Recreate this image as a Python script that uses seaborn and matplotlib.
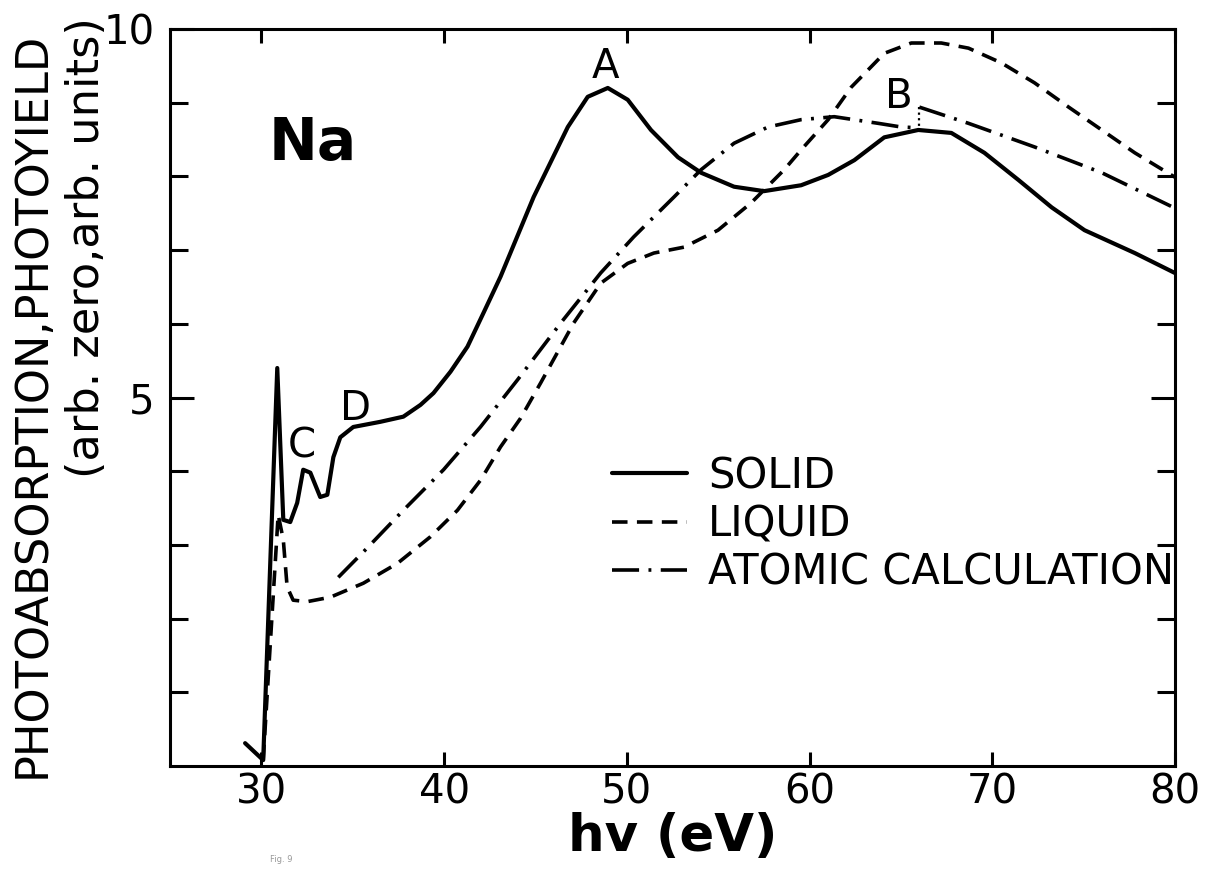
import numpy as np
import pandas as pd
import matplotlib
matplotlib.use('Agg')
import matplotlib.pyplot as plt
import seaborn as sns

### data (hv in eV, intensity in arb. units) ###
solid_ev = [29.11, 30.10, 30.87, 31.20, 31.58, 31.96, 32.29, 32.68, 33.22, 33.61,
            33.94, 34.32, 35.03, 36.51, 37.77, 38.71, 39.42, 40.35, 41.28, 42.16,
            43.09, 44.90, 46.77, 47.86, 48.96, 50.05, 51.32, 52.80, 54.06, 55.87,
            57.51, 59.54, 61.02, 62.45, 64.09, 65.95, 67.76, 69.57, 71.44, 73.25,
            75.05, 77.80, 79.99]
solid_y = [0.31, 0.08, 5.40, 3.34, 3.31, 3.57, 4.02, 3.98, 3.65, 3.68,
           4.19, 4.46, 4.60, 4.67, 4.74, 4.90, 5.06, 5.35, 5.69, 6.15,
           6.64, 7.72, 8.67, 9.08, 9.20, 9.04, 8.63, 8.26, 8.05, 7.86,
           7.80, 7.88, 8.02, 8.22, 8.53, 8.63, 8.59, 8.32, 7.95, 7.58,
           7.27, 6.96, 6.69]

liquid_ev = [30.10, 30.92, 31.20, 31.41, 31.74, 32.51, 33.77, 35.58, 37.45, 39.25,
             40.73, 42.00, 43.09, 44.19, 45.29, 47.09, 48.57, 50.05, 51.48, 53.13,
             54.99, 56.80, 58.61, 59.54, 61.02, 62.28, 64.09, 65.57, 67.21, 68.70,
             70.50, 72.31, 74.18, 75.99, 77.80, 79.99]
liquid_y = [0.08, 3.41, 3.07, 2.43, 2.25, 2.23, 2.29, 2.48, 2.75, 3.11,
            3.47, 3.88, 4.33, 4.72, 5.20, 6.01, 6.55, 6.82, 6.96, 7.04,
            7.27, 7.64, 8.09, 8.36, 8.77, 9.21, 9.67, 9.81, 9.81, 9.74,
            9.54, 9.27, 8.94, 8.63, 8.32, 7.99]

# atomic calculation, below and above the step at B
atomic_ev_lo = [34.21, 35.80, 37.77, 39.97, 41.99, 44.02, 46.38, 48.57, 50.38, 52.58,
                54.06, 55.87, 57.73, 59.54, 61.35, 63.76, 65.02, 65.95]
atomic_y_lo = [2.56, 2.96, 3.47, 4.02, 4.60, 5.24, 6.01, 6.69, 7.18, 7.72,
               8.09, 8.45, 8.67, 8.77, 8.81, 8.72, 8.67, 8.66]
atomic_ev_hi = [66.01, 68.70, 72.31, 75.99, 79.99]
atomic_y_hi = [8.94, 8.72, 8.40, 8.05, 7.57]

step_ev = [66.0, 66.0]
step_y = [8.94, 8.63]

peak_names = ['A', 'B', 'C', 'D']
peak_ev = [48.85, 64.9, 32.24, 35.14]
peak_y = [9.48, 9.08, 4.34, 4.84]

legend_labels = ['SOLID', 'LIQUID', 'ATOMIC CALCULATION']

### style ###
sns.set_style('ticks')
plt.rcParams['font.family'] = ['DejaVu Sans']
for k in ['text.color', 'axes.labelcolor', 'xtick.color', 'ytick.color', 'axes.edgecolor']:
    plt.rcParams[k] = 'black'

fig = plt.figure(figsize=(12.17, 8.73), dpi=100)
ax = fig.add_axes([170/1217, 1-766/873, 1005/1217, 737/873])

dash = (0, (4.3, 2.6))
dashdot = (0, (7.5, 2.6, 0.8, 2.6))

sns.lineplot(x=solid_ev, y=solid_y, ax=ax, color='black', lw=3.0,
             estimator=None, sort=False, label=legend_labels[0])
sns.lineplot(x=liquid_ev, y=liquid_y, ax=ax, color='black', lw=2.6,
             linestyle=dash, estimator=None, sort=False, label=legend_labels[1])
sns.lineplot(x=atomic_ev_lo, y=atomic_y_lo, ax=ax, color='black', lw=2.6,
             linestyle=dashdot, estimator=None, sort=False, label=legend_labels[2])
sns.lineplot(x=atomic_ev_hi, y=atomic_y_hi, ax=ax, color='black', lw=2.6,
             linestyle=dashdot, estimator=None, sort=False, legend=False)
ax.plot(step_ev, step_y, color='black', lw=1.6, linestyle=(0, (1, 1.5)))

for name, xv, yv in zip(peak_names, peak_ev, peak_y):
    ax.text(xv, yv, name, fontsize=29, ha='center', va='center')
ax.text(32.8, 8.44, 'Na', fontsize=42, fontweight='bold', ha='center', va='center')

ax.set_xlim(25, 80)
ax.set_ylim(0, 10)
ax.set_xticks([30, 40, 50, 60, 70, 80])
ax.set_yticks([5, 10])
ax.set_yticks([1, 2, 3, 4, 6, 7, 8, 9], minor=True)
ax.set_xticklabels(['30', '40', '50', '60', '70', '80'], fontsize=29)
ax.set_yticklabels(['5', '10'], fontsize=29)
ax.tick_params(axis='x', which='major', direction='in', length=10, width=2.2,
               top=True, pad=5)
ax.tick_params(axis='y', which='major', direction='in', length=17, width=2.2,
               right=True, pad=11)
ax.tick_params(axis='y', which='minor', direction='in', length=13, width=2.2,
               right=True)
for s in ax.spines.values():
    s.set_visible(True)
    s.set_linewidth(2.2)
    s.set_color('black')

ax.set_xlabel('hv (eV)', fontsize=37, fontweight='bold')
ax.xaxis.set_label_coords(0.5, -0.062)
ax.xaxis.label.set_va('top')
ax.set_ylabel('')

fig.text(32/1217, 1-32/873, 'PHOTOABSORPTION,PHOTOYIELD', rotation=90,
         ha='center', va='top', fontsize=32.2)
fig.text(87/1217, 1-17/873, '(arb. zero,arb. units)', rotation=90,
         ha='center', va='top', fontsize=32.2)
fig.text(270/1217, 1-862/873, 'Fig. 9', fontsize=6, color='#999999')

leg = ax.legend(loc='center left', bbox_to_anchor=(0.44, 0.328), frameon=False,
                fontsize=30, handlelength=1.8, handletextpad=0.5,
                labelspacing=0.15, borderpad=0, borderaxespad=0)

fig.savefig('out.png', dpi=100)
